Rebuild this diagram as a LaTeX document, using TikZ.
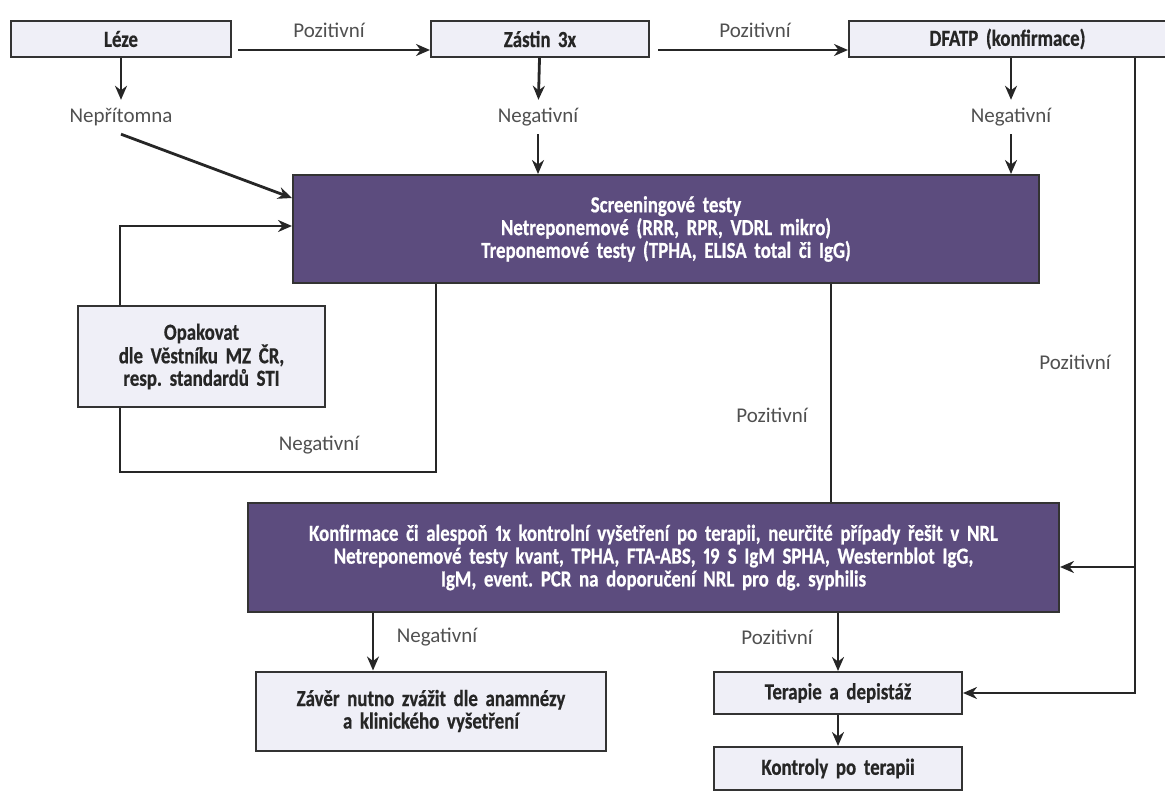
\documentclass[tikz,border=0pt]{standalone}
\usepackage{fontspec}
\setmainfont{Carlito}
\newfontfamily\boxface{Carlito}[FakeStretch=0.82, WordSpace=0.7, FakeBold=0.6, Numbers=Proportional]
\usetikzlibrary{positioning, arrows.meta}
\definecolor{boxFill}{HTML}{EFEFF7}
\definecolor{barFill}{HTML}{5C4C7E}
\definecolor{edgeGray}{HTML}{333333}
\definecolor{lblGray}{HTML}{505050}
\tikzstyle{boxes} = [rectangle, draw=edgeGray, fill=boxFill, line width=2pt, inner sep=4pt, align=center,
font=\boxface\frenchspacing\fontsize{23}{22.5}\selectfont\bfseries, text=black!85]
\tikzstyle{bar} = [rectangle, draw=edgeGray, fill=barFill, line width=2pt, inner sep=4pt, align=center,
font=\boxface\frenchspacing\fontsize{23}{22.8}\selectfont\bfseries, text=white]
\tikzstyle{lbl} = [inner sep=0pt, minimum height=34pt, font=\fontsize{21}{24}\selectfont, text=lblGray]
\tikzstyle{arrow} = [line width=2.8pt, draw=black!85, -{Stealth[length=14pt,width=12pt]}]
\tikzstyle{conn} = [line width=2.8pt, draw=black!85]

\begin{document}
\begin{tikzpicture}[x=1pt, y=-1pt]

    \useasboundingbox (0,0) rectangle (1165,800);

    \node (leze) [boxes, text width=212pt, minimum height=36pt] at (121,39) {Léze};
    \node (zastin) [boxes, text width=210pt, minimum height=36pt, right=198pt of leze] {Zástin 3x};
    \node (dfatp) [boxes, text width=309pt, minimum height=36pt, right=198pt of zastin] {DFATP (konfirmace)};

    \node (screen) [bar, text width=738pt, minimum height=108pt] at (666,229) {Screeningové testy\\Netreponemové (RRR, RPR, VDRL mikro)\\Treponemové testy (TPHA, ELISA total či IgG)};

    \node (opak) [boxes, text width=239pt, minimum height=101pt] at (201.5,356.5) {Opakovat\\dle Věstníku MZ ČR,\\resp. standardů STI};

    \node (konf) [bar, text width=803pt, minimum height=109pt] at (653.5,557.5) {Konfirmace či alespoň 1x kontrolní vyšetření po terapii, neurčité případy řešit v NRL\\Netreponemové testy kvant, TPHA, FTA-ABS, 19 S IgM SPHA, Westernblot IgG,\\IgM, event. PCR na doporučení NRL pro dg. syphilis};

    \node (zaver) [boxes, text width=342pt, minimum height=79pt] at (431,711) {Závěr nutno zvážit dle anamnézy\\a klinického vyšetření};
    \node (terapie) [boxes, text width=240pt, minimum height=42pt] at (838,693) {Terapie a depistáž};
    \node (kontroly) [boxes, text width=240pt, minimum height=43pt, below=31pt of terapie] {Kontroly po terapii};

    \node (poz1) [lbl] at (329,30) {Pozitivní};
    \node (poz2) [lbl] at (755,30) {Pozitivní};
    \node (neprit) [lbl] at (121,117) {Nepřítomna};
    \node (negZ) [lbl] at (538,117) {Negativní};
    \node (negD) [lbl] at (1011,117) {Negativní};
    \node (negLoop) [lbl] at (319,445) {Negativní};
    \node (pozS) [lbl] at (772,415) {Pozitivní};
    \node (pozD) [lbl] at (1075,362) {Pozitivní};
    \node (negK) [lbl] at (437,637) {Negativní};
    \node (pozK) [lbl] at (777,637) {Pozitivní};

    \coordinate (loopR) at (436,472);
    \coordinate (loopL) at (120,472);
    \coordinate (pozLine) at (831,0);
    \coordinate (rightTop) at ([xshift=127.5pt]dfatp.south);
    \coordinate (konfIn) at ([yshift=-9.5pt]konf.east);
    \coordinate (negDown) at ([xshift=-58pt]zaver.north);

    \draw[arrow] ([xshift=6pt,yshift=-11pt]leze.east) -- ([yshift=-11pt]zastin.west);
    \draw[arrow] ([xshift=8pt,yshift=-11pt]zastin.east) -- ([yshift=-11pt]dfatp.west);

    \draw[arrow] (leze) -- (neprit);
    \draw[arrow] (neprit.south) -- ([yshift=31pt]screen.west);
    \draw[arrow] (zastin) -- (negZ);
    \draw[arrow] (negZ) -- (negZ |- screen.north);
    \draw[arrow] (dfatp.south -| negD) -- (negD);
    \draw[arrow] (negD) -- (negD |- screen.north);

    \draw[conn] (screen.south -| loopR) -- (loopR) -- (loopL) -- (loopL |- opak.south);
    \draw[arrow] (loopL |- opak.north) |- ([yshift=3pt]screen.west);

    \draw[conn] (screen.south -| pozLine) -- (konf.north -| pozLine);

    \draw[arrow] (rightTop) |- (terapie.east);
    \draw[arrow] (rightTop |- konfIn) -- (konfIn);

    \draw[arrow] (negDown |- konf.south) -- (negDown);
    \draw[arrow] (konf.south -| terapie.north) -- (terapie.north);
    \draw[arrow] (terapie) -- (kontroly);

\end{tikzpicture}
\end{document}
